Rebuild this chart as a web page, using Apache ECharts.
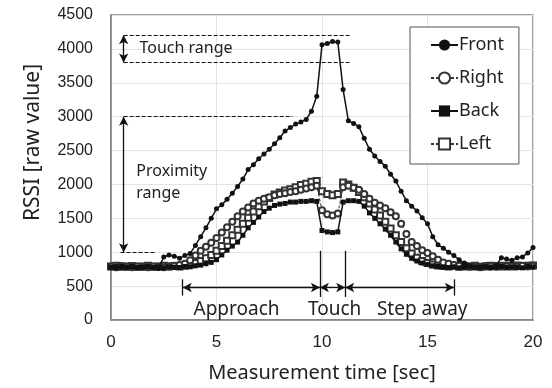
<!DOCTYPE html>
<html>
<head>
<meta charset="utf-8">
<script src="https://cdn.jsdelivr.net/npm/echarts@6/dist/echarts.min.js"></script>
<style>
  html, body { margin: 0; padding: 0; background: #fff; }
  #chart { width: 552px; height: 388px; }
</style>
</head>
<body>
<div id="chart"></div>
<script>
// time axis (sec), one sample every 0.25 s
const times = [
  0, 0.25, 0.5, 0.75, 1, 1.25, 1.5, 1.75, 2, 2.25, 2.5, 2.75, 3, 3.25, 3.5, 3.75,
  4, 4.25, 4.5, 4.75, 5, 5.25, 5.5, 5.75, 6, 6.25, 6.5, 6.75, 7, 7.25, 7.5, 7.75,
  8, 8.25, 8.5, 8.75, 9, 9.25, 9.5, 9.75, 10, 10.25, 10.5, 10.75, 11, 11.25, 11.5, 11.75,
  12, 12.25, 12.5, 12.75, 13, 13.25, 13.5, 13.75, 14, 14.25, 14.5, 14.75, 15, 15.25, 15.5, 15.75,
  16, 16.25, 16.5, 16.75, 17, 17.25, 17.5, 17.75, 18, 18.25, 18.5, 18.75, 19, 19.25, 19.5, 19.75, 20
];

const front = [
  780, 790, 780, 775, 790, 780, 770, 785, 780, 760, 930, 960, 940, 910, 950, 980,
  1100, 1230, 1360, 1500, 1640, 1700, 1780, 1870, 1970, 2080, 2220, 2290, 2380, 2450, 2520, 2600,
  2690, 2790, 2840, 2890, 2920, 2960, 3080, 3300, 4060, 4080, 4110, 4100, 3400, 2940, 2900, 2850,
  2680, 2520, 2420, 2340, 2270, 2150, 2050, 1900, 1760, 1680, 1610, 1510, 1420, 1230, 1110, 1060,
  1000, 950, 890, 840, 800, 785, 775, 790, 780, 800, 920, 900, 880, 920, 930, 990, 1070
];

const right = [
  790, 780, 795, 785, 780, 790, 785, 780, 790, 785, 780, 790, 800, 810, 830, 880,
  950, 1020, 1080, 1140, 1210, 1290, 1370, 1450, 1530, 1600, 1660, 1720, 1760, 1790, 1810, 1840,
  1860, 1870, 1890, 1900, 1920, 1940, 1960, 1980, 1620, 1560, 1540, 1570, 1960, 1980, 1950, 1920,
  1860, 1790, 1730, 1690, 1650, 1590, 1530, 1420, 1270, 1150, 1090, 1030, 990, 940, 890, 850,
  830, 810, 800, 790, 785, 790, 780, 795, 790, 785, 800, 790, 795, 790, 800, 790, 800
];

const back = [
  780, 770, 790, 775, 785, 770, 780, 790, 775, 780, 770, 785, 780, 775, 790, 785,
  800, 810, 830, 850, 890, 960, 1030, 1090, 1150, 1250, 1360, 1440, 1520, 1600, 1650, 1690,
  1710, 1720, 1740, 1740, 1750, 1750, 1760, 1750, 1320, 1300, 1290, 1300, 1740, 1760, 1760, 1750,
  1680, 1580, 1500, 1420, 1340, 1250, 1150, 1050, 970, 910, 870, 840, 820, 800, 790, 780,
  775, 785, 770, 780, 790, 775, 780, 785, 770, 780, 790, 775, 785, 780, 770, 790, 785
];

const left = [
  790, 800, 785, 790, 795, 785, 790, 800, 785, 790, 800, 790, 795, 790, 800, 820,
  840, 870, 910, 960, 1020, 1090, 1170, 1250, 1330, 1420, 1510, 1600, 1680, 1750, 1800, 1850,
  1880, 1910, 1930, 1960, 1990, 2010, 2040, 2050, 1900, 1860, 1840, 1860, 2030, 2000, 1950, 1890,
  1810, 1720, 1630, 1540, 1450, 1350, 1250, 1150, 1060, 980, 920, 870, 840, 820, 805, 795,
  790, 800, 785, 795, 790, 800, 785, 790, 800, 795, 790, 800, 790, 805, 795, 800, 805
];

// annotation guides, in data units [time, rssi]
const dashedGuides = [
  [[0.6, 4200], [11.3, 4200]],
  [[0.6, 3800], [11.3, 3800]],
  [[0.6, 3000], [8.6, 3000]],
  [[0.45, 1000], [2.1, 1000]]
];
const doubleArrows = [
  [[0.6, 4200], [0.6, 3800]],
  [[0.6, 3000], [0.6, 1000]],
  [[3.4, 480], [9.9, 480]],
  [[9.9, 480], [11.1, 480]],
  [[11.1, 480], [16.25, 480]]
];
const tickLines = [
  [[3.4, 600], [3.4, 360]],
  [[9.9, 1020], [9.9, 340]],
  [[11.1, 1020], [11.1, 340]],
  [[16.25, 600], [16.25, 360]]
];
const leftTexts = [
  { name: 'Touch range', at: [1.35, 4010] },
  { name: 'Proximity', at: [1.2, 2190] },
  { name: 'range', at: [1.2, 1870] }
];
const phaseTexts = [
  { name: 'Approach', at: [5.95, 150] },
  { name: 'Touch', at: [10.6, 150] },
  { name: 'Step away', at: [14.75, 150] }
];

const toPairs = vals => vals.map((v, i) => [times[i], v]);

const textFont = "'Noto Sans', sans-serif";
const numFont = "'Liberation Sans', Arial, sans-serif";
const chart = echarts.init(document.getElementById('chart'));

const guideLines = dashedGuides.map(p => [
  { coord: p[0], symbol: 'none', lineStyle: { type: [4, 2], width: 1.2, color: '#111' } },
  { coord: p[1], symbol: 'none' }
]);
const arrowLines = doubleArrows.map(p => [
  { coord: p[0], symbol: 'arrow', symbolSize: [7, 9] },
  { coord: p[1], symbol: 'arrow', symbolSize: [7, 9] }
]);
const plainLines = tickLines.map(p => [
  { coord: p[0], symbol: 'none' },
  { coord: p[1], symbol: 'none' }
]);

const option = {
  animation: false,
  backgroundColor: '#fff',
  grid: {
    left: 111, right: 19, top: 15, bottom: 65,
    show: true, borderColor: '#7f7f7f', borderWidth: 1.5
  },
  legend: {
    orient: 'vertical',
    left: 410, top: 27,
    padding: [9, 15, 11, 20],
    itemGap: 15,
    itemWidth: 27, itemHeight: 14,
    borderColor: '#555', borderWidth: 1,
    backgroundColor: '#fff',
    textStyle: { fontFamily: textFont, fontSize: 18, color: '#222', padding: [0, 0, 0, -4] },
    data: ['Front', 'Right', 'Back', 'Left']
  },
  xAxis: {
    type: 'value', min: 0, max: 20, interval: 5,
    name: 'Measurement time [sec]', nameLocation: 'middle', nameGap: 43,
    nameTextStyle: { fontFamily: textFont, fontSize: 20, color: '#222' },
    axisLine: { show: true, lineStyle: { color: '#7f7f7f', width: 1.5 } },
    axisTick: { show: false },
    axisLabel: { fontFamily: numFont, fontSize: 17, color: '#222', margin: 14, formatter: v => String(v) },
    splitLine: { show: true, lineStyle: { color: '#e3e3e3' } }
  },
  yAxis: {
    type: 'value', min: 0, max: 4500, interval: 500,
    name: 'RSSI [raw value]', nameLocation: 'middle', nameGap: 67,
    nameTextStyle: { fontFamily: textFont, fontSize: 21, color: '#222', padding: [0, 0, 0, 50] },
    axisLine: { show: true, lineStyle: { color: '#7f7f7f', width: 1.5 } },
    axisTick: { show: false },
    axisLabel: { fontFamily: numFont, fontSize: 16, color: '#222', margin: 18, formatter: v => String(v) },
    splitLine: { show: true, lineStyle: { color: '#e3e3e3' } }
  },
  series: [
    {
      name: 'Left', type: 'line', data: toPairs(left),
      symbol: 'emptyRect', symbolSize: 6, z: 2,
      lineStyle: { color: '#333', width: 1, type: [3, 2] },
      itemStyle: { color: '#333', borderWidth: 1 }
    },
    {
      name: 'Right', type: 'line', data: toPairs(right),
      symbol: 'emptyCircle', symbolSize: 6, z: 3,
      lineStyle: { color: '#333', width: 1, type: [3, 2] },
      itemStyle: { color: '#333', borderWidth: 1 }
    },
    {
      name: 'Back', type: 'line', data: toPairs(back),
      symbol: 'rect', symbolSize: 5, z: 4,
      lineStyle: { color: '#111', width: 1.5 },
      itemStyle: { color: '#111' }
    },
    {
      name: 'Front', type: 'line', data: toPairs(front),
      symbol: 'circle', symbolSize: 5, z: 5,
      lineStyle: { color: '#111', width: 1.5 },
      itemStyle: { color: '#111' }
    },
    {
      name: 'notes', type: 'line', data: [], silent: true, z: 6,
      markLine: {
        silent: true, animation: false,
        label: { show: false },
        lineStyle: { color: '#111', width: 1.3, type: 'solid' },
        data: guideLines.concat(arrowLines).concat(plainLines)
      },
      markPoint: {
        silent: true, animation: false,
        symbol: 'circle', symbolSize: 0,
        data: leftTexts.map(t => ({
          name: t.name, coord: t.at,
          label: { show: true, position: 'right', distance: 0, formatter: '{b}',
                   fontFamily: textFont, fontSize: 16, color: '#222' }
        })).concat(phaseTexts.map(t => ({
          name: t.name, coord: t.at,
          label: { show: true, position: 'inside', formatter: '{b}',
                   fontFamily: textFont, fontSize: 19, color: '#222' }
        })))
      }
    }
  ]
};

chart.setOption(option);
</script>
</body>
</html>
